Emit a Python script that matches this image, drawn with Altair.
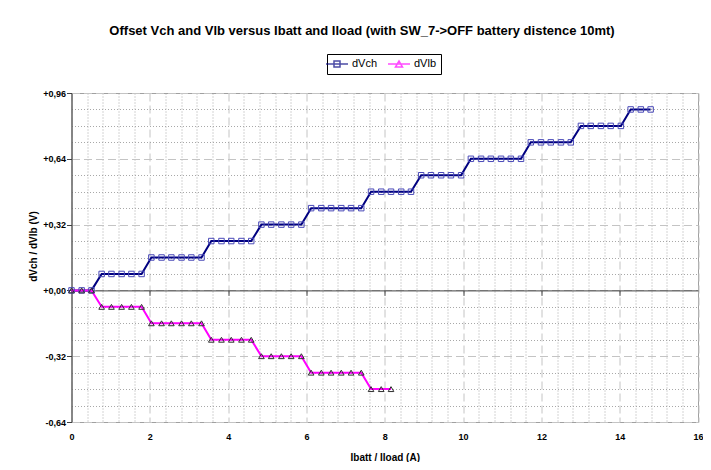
import altair as alt
import pandas as pd

TITLE = "Offset Vch and Vlb versus Ibatt and Iload (with SW_7->OFF battery distence 10mt)"
SERIES = ["dVch", "dVlb"]
X_TITLE = "Ibatt / Iload (A)"
Y_TITLE = "dVch / dVlb (V)"

# Ibatt / Iload sample currents (A)
IBATT = [0.00, 0.26, 0.51, 0.77, 1.02, 1.28, 1.53, 1.79, 2.04, 2.30,
         2.55, 2.81, 3.06, 3.32, 3.57, 3.83, 4.08, 4.34, 4.59, 4.85,
         5.10, 5.36, 5.61, 5.87, 6.12, 6.38, 6.63, 6.89, 7.14, 7.40,
         7.65, 7.91, 8.16, 8.42, 8.67, 8.93, 9.18, 9.44, 9.69, 9.95,
         10.20, 10.46, 10.71, 10.97, 11.22, 11.48, 11.73, 11.99, 12.24, 12.50,
         12.75, 13.01, 13.26, 13.52, 13.77, 14.03, 14.28, 14.54, 14.79]

DVCH = [0.00, 0.00, 0.00,
        0.08, 0.08, 0.08, 0.08, 0.08,
        0.16, 0.16, 0.16, 0.16, 0.16, 0.16,
        0.24, 0.24, 0.24, 0.24, 0.24,
        0.32, 0.32, 0.32, 0.32, 0.32,
        0.40, 0.40, 0.40, 0.40, 0.40, 0.40,
        0.48, 0.48, 0.48, 0.48, 0.48,
        0.56, 0.56, 0.56, 0.56, 0.56,
        0.64, 0.64, 0.64, 0.64, 0.64, 0.64,
        0.72, 0.72, 0.72, 0.72, 0.72,
        0.80, 0.80, 0.80, 0.80, 0.80,
        0.88, 0.88, 0.88]

DVLB = [0.00, 0.00, 0.00,
        -0.08, -0.08, -0.08, -0.08, -0.08,
        -0.16, -0.16, -0.16, -0.16, -0.16, -0.16,
        -0.24, -0.24, -0.24, -0.24, -0.24,
        -0.32, -0.32, -0.32, -0.32, -0.32,
        -0.40, -0.40, -0.40, -0.40, -0.40, -0.40,
        -0.48, -0.48, -0.48]

X_MAJOR = [0, 2, 4, 6, 8, 10, 12, 14, 16]
X_MINOR = [0.4, 0.8, 1.2, 1.6, 2.4, 2.8, 3.2, 3.6, 4.4, 4.8, 5.2, 5.6,
           6.4, 6.8, 7.2, 7.6, 8.4, 8.8, 9.2, 9.6, 10.4, 10.8, 11.2, 11.6,
           12.4, 12.8, 13.2, 13.6, 14.4, 14.8, 15.2, 15.6]
Y_MAJOR = [-0.64, -0.32, 0.0, 0.32, 0.64, 0.96]
Y_MINOR = [-0.56, -0.48, -0.40, -0.24, -0.16, -0.08, 0.08, 0.16, 0.24,
           0.40, 0.48, 0.56, 0.72, 0.80, 0.88]

FONT = "Liberation Sans"
PAD_L, PAD_T, PAD_R, PAD_B = 63.5, 85, 5, 40
W, H = 695 - PAD_L - PAD_R, 329
NAVY = "#000080"
MAGENTA = "#FF00FF"

df = pd.DataFrame({
    "series": [SERIES[0]] * len(DVCH) + [SERIES[1]] * len(DVLB),
    "x": IBATT + IBATT[:len(DVLB)],
    "y": DVCH + DVLB,
})

xs = alt.Scale(domain=[0, 16], nice=False, zero=False)
ys = alt.Scale(domain=[-0.64, 0.96], nice=False, zero=False)
cs = alt.Scale(domain=SERIES, range=[NAVY, MAGENTA])
ss = alt.Scale(domain=SERIES, range=[
    "M-2.2,0H2.2M-0.6,-0.6H0.6V0.6H-0.6Z",
    "M-2.2,0H2.2M-0.7,0.6L0,-0.6L0.7,0.6Z",
])

x_axis_major = alt.Axis(
    orient="bottom", values=X_MAJOR, format="d", grid=True, gridColor="#c4c4c4",
    gridDash=[8, 4], gridWidth=1, ticks=False, tickSize=0, domain=False,
    labelFont=FONT, labelFontSize=9, labelFontWeight="bold", labelColor="black",
    labelPadding=10, labelFlush=False, labelOverlap=False,
    title=X_TITLE, titleFont=FONT, titleFontSize=10, titleFontWeight="bold",
    titleColor="black", titleY=38, titleBaseline="alphabetic")
y_axis_major = alt.Axis(
    orient="left", values=Y_MAJOR, grid=True, gridColor="#c4c4c4",
    gridDash=[8, 4], gridWidth=1, domain=True, domainColor="#404040",
    ticks=True, tickSize=5, tickColor="#404040",
    labelExpr="(datum.value < 0 ? '-' : '+') + replace(format(abs(datum.value), '.2f'), '.', ',')",
    labelFont=FONT, labelFontSize=9, labelFontWeight="bold", labelColor="black",
    labelPadding=1, labelFlush=False, labelOverlap=False,
    title=Y_TITLE, titleFont=FONT, titleFontSize=10, titleFontWeight="bold",
    titleColor="black", titleAngle=270, titleX=-38.5, titleY=153,
    titleBaseline="middle", titleAlign="center")
x_axis_minor = alt.Axis(
    orient="bottom", values=X_MINOR, grid=True, gridColor="#a8a8a8",
    gridDash=[1, 2], gridWidth=1, ticks=False, labels=False, domain=False, title=None)
y_axis_minor = alt.Axis(
    orient="left", values=Y_MINOR, grid=True, gridColor="#a8a8a8",
    gridDash=[1, 2], gridWidth=1, ticks=False, labels=False, domain=False, title=None)
x_axis_zero = alt.Axis(
    orient="bottom", values=X_MAJOR[1:-1], offset=-(H * 0.64 / 1.6), grid=False,
    domain=True, domainColor="#404040", domainWidth=1, ticks=True, tickSize=5,
    tickColor="#404040", labels=False, title=None)

legend = alt.Legend(
    title=None, orient="none", legendX=327 - 8 - PAD_L, legendY=54 - 8 - PAD_T,
    direction="horizontal", strokeColor="black", fillColor="white", padding=4,
    labelFont=FONT, labelFontSize=11, labelColor="black", labelOffset=9,
    columnPadding=7, symbolSize=100, symbolStrokeWidth=1.5, symbolOffset=0)

base = alt.Chart(df)

lines = base.mark_line(strokeWidth=2).encode(
    x=alt.X("x:Q", scale=xs, axis=x_axis_major),
    y=alt.Y("y:Q", scale=ys, axis=y_axis_major),
    color=alt.Color("series:N", scale=cs, legend=legend),
)

squares = base.transform_filter(alt.datum.series == SERIES[0]).mark_point(
    shape="square", filled=False, size=30, color="#4a4ab8", strokeWidth=1, opacity=1
).encode(
    x=alt.X("x:Q", scale=xs, axis=x_axis_minor),
    y=alt.Y("y:Q", scale=ys, axis=y_axis_minor),
)

triangles = base.transform_filter(alt.datum.series == SERIES[1]).mark_point(
    shape="triangle-up", filled=False, size=32, color="#303030", strokeWidth=1, opacity=1
).encode(
    x=alt.X("x:Q", scale=xs, axis=None),
    y=alt.Y("y:Q", scale=ys, axis=None),
)

legend_layer = base.transform_filter("false").mark_point(filled=False).encode(
    x=alt.X("x:Q", scale=xs, axis=x_axis_zero),
    y=alt.Y("y:Q", scale=ys, axis=None),
    shape=alt.Shape("series:N", scale=ss, legend=legend),
    color=alt.Color("series:N", scale=cs, legend=legend),
)

chart = alt.layer(lines, squares, triangles, legend_layer).resolve_axis(
    x="independent", y="independent"
).properties(
    width=W, height=H,
    autosize=alt.AutoSizeParams(type="none"),
    padding={"left": PAD_L, "top": PAD_T, "right": PAD_R, "bottom": PAD_B},
    title=alt.TitleParams(text=TITLE, font=FONT, fontSize=13, fontWeight="bold",
                          color="black", anchor="middle", frame="group",
                          dx=362 - 8 - PAD_L - W / 2, offset=10, baseline="middle"),
    background="white",
).configure_view(stroke="#a0a0a0", strokeWidth=1)

chart.save("out.html", embed_options={"renderer": "svg", "actions": False})
